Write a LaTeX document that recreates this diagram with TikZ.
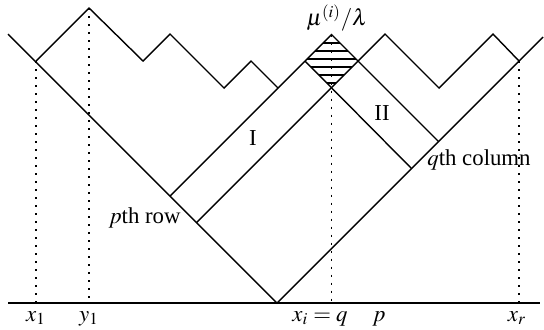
\documentclass[tikz,border=0pt]{standalone}
\usepackage{mathptmx}
\usepackage{fontspec}
\setmainfont{Liberation Serif}
\begin{document}
\begin{tikzpicture}[x=0.5pt,y=-0.5pt,
  ln/.style={line width=0.7pt, line join=miter},
  dotln/.style={line width=0.7pt, dash pattern=on 1pt off 3pt},
  hatch/.style={line width=1.3pt},
  lab/.style={inner sep=0pt, font=\fontsize{11.4}{13}\selectfont}]
\useasboundingbox (0,0) rectangle (544,329);
% key points
\coordinate (A) at (8,34);
\coordinate (V) at (277,303);
\coordinate (R) at (543,37);
\coordinate (X1) at (36,61);
\coordinate (P1) at (89,8);
\coordinate (P2) at (143,61);
\coordinate (P3) at (170,34);
\coordinate (P4) at (224,88);
\coordinate (P5) at (251,61);
\coordinate (P6) at (278,88);
\coordinate (DL) at (305,61);
\coordinate (DT) at (331.5,34.5);
\coordinate (DR) at (358,61);
\coordinate (DB) at (331.5,87.5);
\coordinate (Q1) at (385,34);
\coordinate (Q2) at (439,88);
\coordinate (Q3) at (493,34);
\coordinate (XR) at (519,61);
\coordinate (S1) at (170,196);
\coordinate (S2) at (196.5,222.5);
\coordinate (T1) at (411.5,168.5);
\coordinate (T2) at (438.5,141.5);
\coordinate (B0) at (8,303);
\coordinate (B1) at (540,303);
% baseline
\draw[ln] (B0) -- (B1);
% big V
\draw[ln] (A) -- (V) -- (R);
% upper path
\draw[ln] (X1) -- (P1) -- (P2) -- (P3) -- (P4) -- (P5) -- (P6);
\draw[ln] (DL) -- (DT) -- (DR) -- (Q1) -- (Q2) -- (Q3) -- (XR);
% strips
\draw[ln] (DL) -- (S1);
\draw[ln] (DR) -- (S2);
\draw[ln] (DL) -- (T1);
\draw[ln] (DR) -- (T2);
% hatching
\begin{scope}
  \clip (DL) -- (DT) -- (DR) -- (DB) -- cycle;
  \foreach \yy in {43,51,59,67,75,83}
    \draw[hatch] (300,\yy) -- (365,\yy);
\end{scope}
% dotted verticals
\draw[dotln] (X1) -- (X1 |- B0);
\draw[dotln] (P1) -- (P1 |- B0);
\draw[dotln] (DT) -- (DT |- B0);
\draw[dotln] (XR) -- (XR |- B0);
% labels
\node[lab] (mu) at (337,18) {$\mu^{(i)}/\lambda$};
\node[lab] (one) at (253,138) {I};
\node[lab] (two) at (382,113) {II};
\node[lab, anchor=east] (prow) at (181,218) {$p$th row};
\node[lab, anchor=west] (qcol) at (427,160) {$q$th column};
\node[lab, anchor=base] (lx1) at (36,321) {$x_1$};
\node[lab, anchor=base] (ly1) at (89,321) {$y_1$};
\node[lab, anchor=base] (lxi) at (320,321) {$x_i=q$};
\node[lab, anchor=base] (lp) at (379,321) {$p$};
\node[lab, anchor=base] (lxr) at (517,321) {$x_r$};
\end{tikzpicture}
\end{document}
